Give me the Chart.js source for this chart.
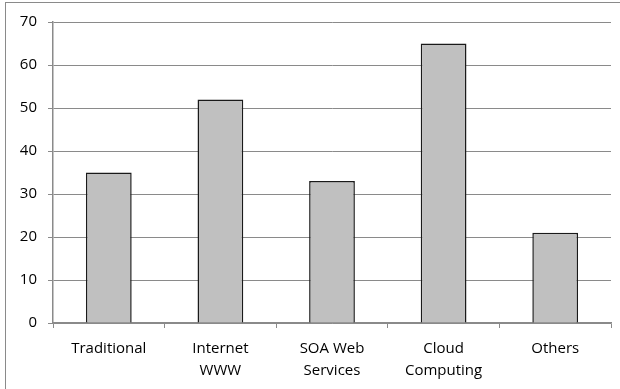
<!DOCTYPE html>
<html><head><meta charset="utf-8">
<script src="https://cdn.jsdelivr.net/npm/chart.js@4"></script>
<style>html,body{margin:0;padding:0;background:#fff}#w{width:620px;height:389px;position:relative}</style>
</head><body><div id="w"><canvas id="c" width="620" height="389"></canvas></div>
<script>
const categories = [["Traditional"], ["Internet", "WWW"], ["SOA Web", "Services"], ["Cloud", "Computing"], ["Others"]];
const values = [35, 52, 33, 65, 21];
const yTicks = [0, 10, 20, 30, 40, 50, 60, 70];

const borderPlugin = {
  id: 'outerBorder',
  beforeDraw(chart) {
    const ctx = chart.ctx;
    ctx.save();
    ctx.fillStyle = '#fff';
    ctx.fillRect(0, 0, chart.width, chart.height);
    ctx.strokeStyle = '#8a8a8a';
    ctx.lineWidth = 1;
    ctx.strokeRect(5.5, 2.5, 700, 500);
    ctx.restore();
  }
};

new Chart(document.getElementById('c'), {
  type: 'bar',
  data: {
    labels: categories,
    datasets: [{
      data: values,
      backgroundColor: '#c0c0c0',
      borderColor: '#1a1a1a',
      borderWidth: 1.5,
      categoryPercentage: 1,
      barPercentage: 0.41
    }]
  },
  options: {
    responsive: false,
    animation: false,
    layout: { padding: { left: 0, right: 9, top: 22, bottom: 0 } },
    plugins: { legend: { display: false }, tooltip: { enabled: false } },
    scales: {
      y: {
        min: 0, max: 70,
        afterBuildTicks(scale) { scale.ticks = yTicks.map(v => ({ value: v })); },
        afterFit(scale) { scale.width = 53; },
        border: { color: '#8a8a8a', width: 1.5 },
        grid: { color: '#8a8a8a', lineWidth: 1, tickLength: 5 },
        ticks: { color: '#000', padding: 11, font: { family: 'Open Sans', size: 15 } }
      },
      x: {
        afterFit(scale) { scale.height = 66; },
        border: { color: '#8a8a8a', width: 1.5 },
        grid: { drawOnChartArea: false, drawTicks: true, tickLength: 5, color: '#8a8a8a', offset: true },
        ticks: { color: '#000', padding: 10, maxRotation: 0, autoSkip: false, font: { family: 'Open Sans', size: 15, lineHeight: 1.45 } }
      }
    }
  },
  plugins: [borderPlugin]
});
</script></body></html>
